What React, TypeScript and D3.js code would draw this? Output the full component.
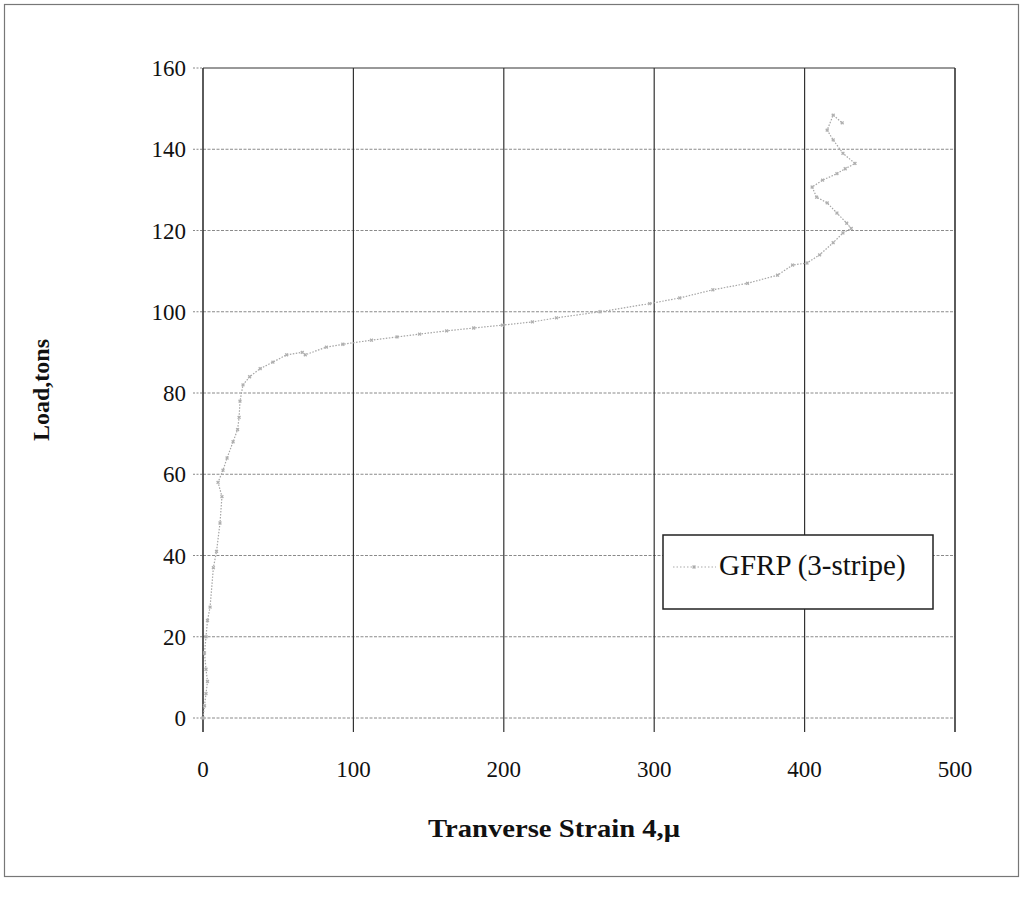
import React from 'react';
import * as d3 from 'd3';

const strain = [0, 1, 2, 3, 2, 1, 2, 3, 4.7, 6.9, 9, 11.3, 12.6, 10, 13.3, 16, 20, 23, 24, 24.6, 26.6, 31, 38, 46.5, 55.6, 66, 68, 82, 93, 112, 129, 144, 162, 180, 199, 219, 235, 264, 297, 317, 339, 362, 382, 392, 401.6, 410, 419, 425.5, 431, 428, 421.5, 415, 408, 405, 412, 421.5, 427, 433.5, 425.5, 419, 415, 419, 425];
const load = [0, 3, 6, 9, 12, 16, 20, 24, 27.3, 37, 41, 48, 54.5, 58, 61, 64, 68, 71, 74, 78, 82, 84, 86, 87.6, 89.4, 90, 89.4, 91.3, 92, 93, 93.8, 94.5, 95.3, 96, 96.7, 97.5, 98.5, 100, 102, 103.4, 105.4, 107, 109, 111.5, 112, 114, 117, 119.4, 120.5, 121.8, 124.3, 126.8, 128.2, 130.7, 132.4, 134, 135.2, 136.5, 139, 142.3, 144.7, 148.4, 146.5];

const xTicks = [0, 100, 200, 300, 400, 500];
const yTicks = [0, 20, 40, 60, 80, 100, 120, 140, 160];
const seriesName = 'GFRP (3-stripe)';

export default function App() {
  const width = 1022;
  const height = 900;
  const x = d3.scaleLinear().domain([0, 500]).range([203, 955]);
  const y = d3.scaleLinear().domain([0, 160]).range([718, 68]);
  const pts = strain.map((s, i) => [s, load[i]] as [number, number]);
  const line = d3.line<[number, number]>().x(d => x(d[0])).y(d => y(d[1]));
  const cross = d3.symbol().type(d3.symbolCross).size(9);
  const font = '"Liberation Serif", "Times New Roman", serif';

  return (
    <svg width={width} height={height} style={{ position: 'absolute', left: 0, top: 0, background: '#fff' }}>
      <rect x={4.5} y={4.5} width={1014} height={872} fill="none" stroke="#777" strokeWidth={1.2} />

      {/* horizontal gridlines */}
      {yTicks.map(t => (
        <g key={'y' + t}>
          <line x1={x(0)} x2={x(500)} y1={y(t)} y2={y(t)} stroke={t === 160 ? '#333' : '#8a8a8a'}
            strokeWidth={1} strokeDasharray={t === 160 ? undefined : '3 1.5'} />
          <line x1={x(0) - 10} x2={x(0)} y1={y(t)} y2={y(t)} stroke="#888" strokeDasharray="2 1.5" />
          <text x={186} y={y(t)} dy="0.35em" textAnchor="end" fontFamily={font} fontSize={23} fill="#111">{t}</text>
        </g>
      ))}

      {/* vertical gridlines */}
      {xTicks.map(t => (
        <g key={'x' + t}>
          <line x1={x(t)} x2={x(t)} y1={y(160)} y2={y(0) + 14} stroke="#333" strokeWidth={t === 0 || t === 500 ? 1.6 : 1.2} />
          <text x={x(t)} y={769} dy="0.35em" textAnchor="middle" fontFamily={font} fontSize={23} fill="#111">{t}</text>
        </g>
      ))}

      {/* series */}
      <path d={line(pts) || ''} fill="none" stroke="#a5a5a5" strokeWidth={1.2} strokeDasharray="1.5 1.5" />
      {pts.map((p, i) => (
        <path key={i} d={cross() || ''} transform={`translate(${x(p[0])},${y(p[1])}) rotate(45)`} fill="#b0b0b0" />
      ))}

      {/* legend */}
      <rect x={663} y={535} width={270} height={74} fill="#fff" stroke="#222" strokeWidth={1.5} />
      <line x1={673} x2={716} y1={567} y2={567} stroke="#aaa" strokeWidth={1.2} strokeDasharray="1.5 2" />
      <path d={cross() || ''} transform="translate(694,567) rotate(45)" fill="#aaa" />
      <text x={719} y={575} fontFamily={font} fontSize={29} fill="#111">{seriesName}</text>

      {/* axis titles */}
      <text x={554} y={828} dy="0.35em" textAnchor="middle" fontFamily={font} fontSize={25} fontWeight="bold" fill="#111"
        textLength={252} lengthAdjust="spacingAndGlyphs">Tranverse Strain 4,μ</text>
      <text transform="translate(41,390) rotate(-90)" dy="0.35em" textAnchor="middle" fontFamily={font} fontSize={24} fontWeight="bold" fill="#111">Load,tons</text>
    </svg>
  );
}
